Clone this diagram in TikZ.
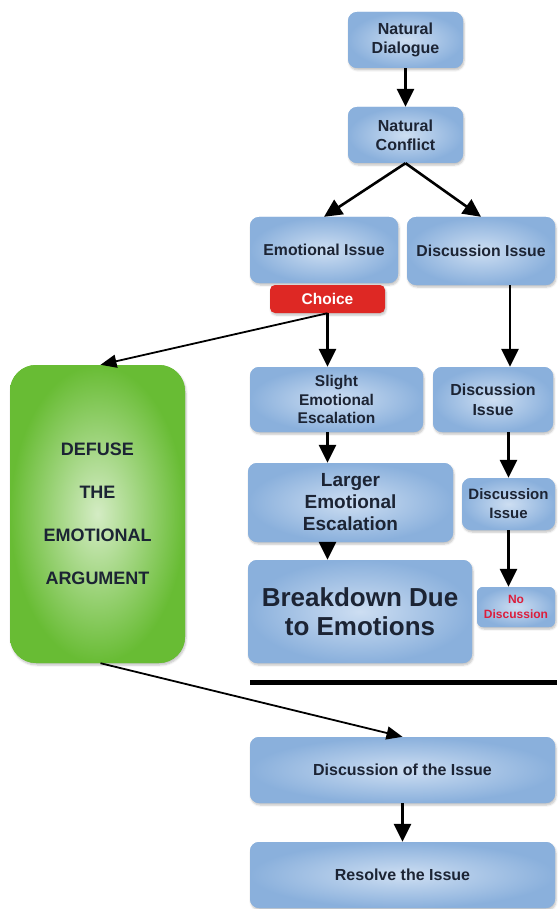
\documentclass[tikz,border=0pt]{standalone}
\usepackage{fontspec}
\setmainfont{Liberation Sans}
\usetikzlibrary{arrows.meta,shadows.blur}
\definecolor{boxout}{RGB}{138,176,220}
\definecolor{boxin}{RGB}{205,222,242}
\definecolor{grout}{RGB}{104,188,52}
\definecolor{grin}{RGB}{212,236,196}
\definecolor{chred}{RGB}{222,40,36}
\definecolor{txt}{RGB}{28,36,52}
\definecolor{nored}{RGB}{220,30,60}
\tikzset{
  shad/.style={blur shadow={shadow xshift=1pt, shadow yshift=-2pt, shadow blur steps=5, shadow opacity=25}},
  bbox/.style={rounded corners=9pt, fill=boxout, inner color=boxin, outer color=boxout, draw=none,
    align=center, font=\bfseries, text=txt, inner sep=2pt, shad},
  gbox/.style={rounded corners=26pt, fill=grout, inner color=grin, outer color=grout, draw=none,
    align=center, font=\bfseries\fontsize{18}{43}\selectfont, text=txt, shad},
  rbox/.style={rounded corners=5pt, fill=chred, draw=none, text=white,
    font=\bfseries\fontsize{15.5}{17}\selectfont, shad},
  arr/.style={line width=2.6pt, -{Triangle[width=17pt,length=18pt]}},
  thinarr/.style={line width=1.8pt, -{Triangle[width=13pt,length=16pt]}}
}
\begin{document}
\begin{tikzpicture}[x=1pt,y=-1pt]
\useasboundingbox (0,0) rectangle (557,909);
\node[bbox, minimum width=115pt, minimum height=56pt, font=\bfseries\fontsize{16}{19}\selectfont] (nd) at (405.5,40) {Natural\\Dialogue};
\node[bbox, minimum width=115pt, minimum height=56pt, font=\bfseries\fontsize{16}{19}\selectfont] (nc) at (405.5,135) {Natural\\Conflict};
\node[bbox, minimum width=148pt, minimum height=66pt, font=\bfseries\fontsize{15.8}{18}\selectfont] (ei) at (324,250) {Emotional Issue};
\node[bbox, minimum width=148pt, minimum height=68pt, font=\bfseries\fontsize{15.8}{18}\selectfont] (di) at (481,251) {Discussion Issue};
\node[rbox, minimum width=115pt, minimum height=28pt] (ch) at (327.5,299) {Choice};
\node[bbox, minimum width=173pt, minimum height=65pt, font=\bfseries\fontsize{15.5}{18.3}\selectfont] (se) at (336.5,399.5) {Slight\\Emotional\\Escalation};
\node[bbox, minimum width=120pt, minimum height=65pt, font=\bfseries\fontsize{16}{20}\selectfont] (d2) at (493,399.5) {Discussion\\Issue};
\node[bbox, minimum width=205pt, minimum height=79pt, font=\bfseries\fontsize{19}{22}\selectfont] (le) at (350.5,502.5) {Larger\\Emotional\\Escalation};
\node[bbox, minimum width=93pt, minimum height=52pt, font=\bfseries\fontsize{15}{19}\selectfont] (d3) at (508.5,504) {Discussion\\Issue};
\node[bbox, minimum width=224pt, minimum height=103pt, font=\bfseries\fontsize{26}{29}\selectfont] (bd) at (360,611.5) {Breakdown Due\\to Emotions};
\node[bbox, minimum width=78pt, minimum height=40pt, rounded corners=6pt, text=nored, font=\bfseries\fontsize{12}{15}\selectfont] (no) at (516,607) {No\\Discussion};
\node[gbox, minimum width=175pt, minimum height=298pt] (df) at (97.5,514) {DEFUSE\\THE\\EMOTIONAL\\ARGUMENT};
\node[bbox, minimum width=305pt, minimum height=66pt, font=\bfseries\fontsize{16}{18}\selectfont] (dis) at (402.5,770) {Discussion of the Issue};
\node[bbox, minimum width=305pt, minimum height=66pt, font=\bfseries\fontsize{16}{18}\selectfont] (res) at (402.5,875) {Resolve the Issue};
\coordinate (b1) at (250,682);
\coordinate (b2) at (557,682);
\draw[line width=5pt] (b1) -- (b2);
\draw[arr] (nd) -- (nc);
\draw[arr] (nc.south) -- (ei.north);
\draw[arr] (nc.south) -- (di.north);
\draw[arr] (ch.south) -- (ch.south |- se.north);
\draw[arr] (se.south -| ch.south) -- (le.north -| ch.south);
\draw[arr] (le.south -| ch.south) -- (bd.north -| ch.south);
\draw[arr] ([xshift=29pt]di.south) -- ([xshift=29pt]di.south |- d2.north);
\draw[arr] (d2.south -| d3.north) -- (d3.north);
\draw[arr] (d3.south) -- (d3.south |- no.north);
\draw[thinarr] (ch.south) -- ([xshift=3pt]df.north);
\draw[thinarr] ([xshift=3pt]df.south) -- (dis.north);
\draw[arr] (dis) -- (res);
\end{tikzpicture}
\end{document}
